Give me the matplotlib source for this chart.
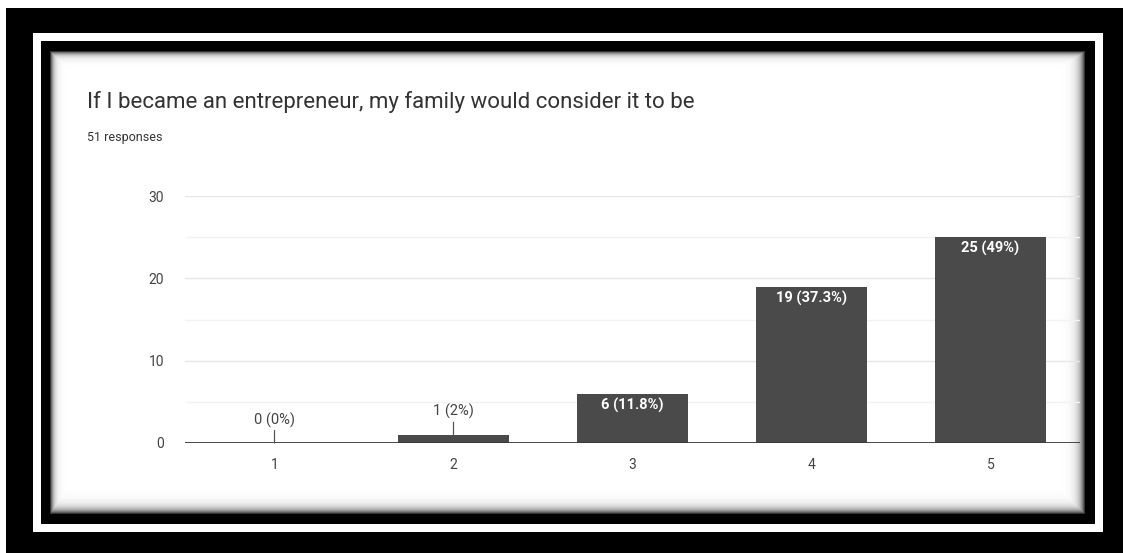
import numpy as np
import matplotlib
matplotlib.use("Agg")
import matplotlib.pyplot as plt
from matplotlib.patches import Rectangle

plt.rcParams['font.family'] = ['Roboto', 'DejaVu Sans']

# survey results
categories = ['1', '2', '3', '4', '5']
counts = [0, 1, 6, 19, 25]
total = 51
title = 'If I became an entrepreneur, my family would consider it to be'
subtitle = '51 responses'

W, H = 1123, 553
fig = plt.figure(figsize=(W / 100, H / 100), dpi=100)
fig.patch.set_facecolor('white')


def box(x0, y0, x1, y1, color, z):
    # rectangle given in pixels from the top-left corner
    fig.patches.append(Rectangle((x0 / W, 1 - y1 / H), (x1 - x0) / W, (y1 - y0) / H,
                                 transform=fig.transFigure, facecolor=color,
                                 edgecolor='none', zorder=z))


# black frame with a thin white inner line
box(6, 8, W, H, 'black', 0)
box(33, 33, 1103, 532, 'white', 1)
box(41, 41, 1095, 524, 'black', 2)

# white card with a soft inner shadow along its edges
px0, py0, px1, py1 = 50, 51, 1085, 514
xs, ys = np.meshgrid(np.arange(px1 - px0), np.arange(py1 - py0))
dl = xs
dr = (px1 - px0 - 1) - xs
dt = ys
db = (py1 - py0 - 1) - ys
shade = np.maximum.reduce([
    np.exp(-dl / 3.0),
    np.exp(-dt / 3.0),
    np.exp(-dr / 4.5),
    np.exp(-db / 4.5),
])
card = fig.add_axes([px0 / W, 1 - py1 / H, (px1 - px0) / W, (py1 - py0) / H], zorder=3)
card.imshow(1 - 0.8 * shade, cmap='gray', vmin=0, vmax=1, aspect='auto',
            interpolation='bilinear')
card.set_axis_off()

fig.text(87 / W, 1 - 102 / H, title, fontsize=16, color='#333333',
         ha='left', va='center', zorder=10)
fig.text(87 / W, 1 - 138 / H, subtitle, fontsize=9, color='#333333',
         ha='left', va='center', zorder=10)

# chart area
ax_l, ax_r, ax_t, ax_b = 185, 1080, 196, 443
ax = fig.add_axes([ax_l / W, 1 - ax_b / H, (ax_r - ax_l) / W, (ax_b - ax_t) / H], zorder=5)
ax.patch.set_visible(False)

x = np.arange(len(categories))
ax.bar(x, counts, width=0.615, color='#4a4a4a', zorder=3)

ax.set_xlim(-0.5, len(categories) - 0.5)
ax.set_ylim(0, 30)
ax.set_yticks([0, 10, 20, 30])
ax.set_yticks([5, 15, 25], minor=True)
ax.grid(axis='y', which='major', color='#e6e6e6', linewidth=1)
ax.grid(axis='y', which='minor', color='#f2f2f2', linewidth=1)
ax.axhline(0, color='#3a3a3a', linewidth=1.3, zorder=4)
for s in ax.spines.values():
    s.set_visible(False)
ax.set_xticks(x)
ax.set_xticklabels(categories)
ax.tick_params(axis='both', which='both', length=0, labelsize=10, labelcolor='#444444')
ax.tick_params(axis='y', pad=15)
ax.tick_params(axis='x', pad=11)

for xi, c in zip(x, counts):
    pct = 100 * c / total
    label = f'{c} ({pct:.1f}%)' if abs(pct - round(pct)) > 0.05 else f'{c} ({round(pct)}%)'
    if c >= 3:
        ax.annotate(label, (xi, c), xytext=(0, -3), textcoords='offset points',
                    ha='center', va='top', color='white', fontsize=10.5,
                    fontweight='bold', zorder=6)
    else:
        ax.annotate(label, (xi, c), xytext=(0, 11), textcoords='offset points',
                    ha='center', va='bottom', color='#444444', fontsize=10.5,
                    zorder=6,
                    arrowprops=dict(arrowstyle='-', color='#555555', lw=0.9,
                                    shrinkA=0, shrinkB=0))

fig.savefig('out.png', dpi=100)
